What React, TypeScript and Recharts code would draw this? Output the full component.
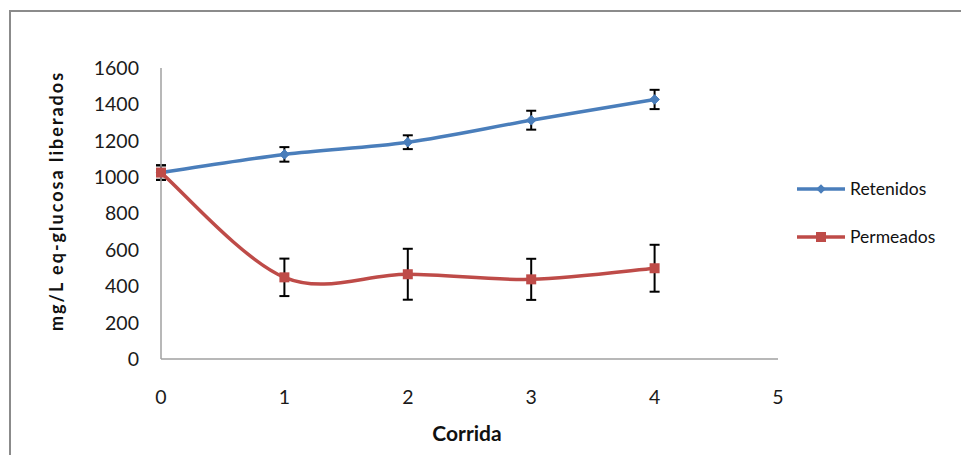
import React from 'react';
import { LineChart, Line, XAxis, YAxis, ErrorBar, Legend } from 'recharts';

// Run number (x axis)
const corrida = [0, 1, 2, 3, 4];
// mg/L glucose-equivalents released, retentate
const retenidos = [1025, 1125, 1192, 1313, 1427];
const retenidosErr = [40, 40, 38, 52, 53];
// mg/L glucose-equivalents released, permeate
const permeados = [1025, 449, 466, 438, 499];
const permeadosErr = [40, 103, 140, 113, 129];

const xTicks = [0, 1, 2, 3, 4, 5];
const yTicks = [0, 200, 400, 600, 800, 1000, 1200, 1400, 1600];

const BLUE = '#4a7ebb';
const RED = '#be4b48';
const FONT = 'Lato, "Open Sans", sans-serif';

const data = corrida.map((c, i) => ({
  corrida: c,
  retenidos: retenidos[i],
  retenidosErr: retenidosErr[i],
  permeados: permeados[i],
  permeadosErr: permeadosErr[i],
}));

// Smoothed curve in the spreadsheet style: cubic Bezier segments with
// Catmull-Rom control points (endpoints duplicated).
const smoothCurve = (context: any) => {
  let pts: number[][] = [];
  return {
    areaStart() {},
    areaEnd() {},
    lineStart() {
      pts = [];
    },
    point(x: number, y: number) {
      pts.push([+x, +y]);
    },
    lineEnd() {
      const n = pts.length;
      if (!n) return;
      context.moveTo(pts[0][0], pts[0][1]);
      for (let i = 0; i < n - 1; i++) {
        const p0 = pts[Math.max(i - 1, 0)];
        const p1 = pts[i];
        const p2 = pts[i + 1];
        const p3 = pts[Math.min(i + 2, n - 1)];
        context.bezierCurveTo(
          p1[0] + (p2[0] - p0[0]) / 6,
          p1[1] + (p2[1] - p0[1]) / 6,
          p2[0] - (p3[0] - p1[0]) / 6,
          p2[1] - (p3[1] - p1[1]) / 6,
          p2[0],
          p2[1]
        );
      }
    },
  };
};

const diamondPath = (cx: number, cy: number, r: number) =>
  `M${cx},${cy - r}L${cx + r},${cy}L${cx},${cy + r}L${cx - r},${cy}Z`;

const renderDiamond = (props: any) => {
  const { cx, cy, index } = props;
  if (cx == null || cy == null) return <g key={`d${index}`} />;
  return <path key={`d${index}`} d={diamondPath(cx, cy, 4.8)} fill={BLUE} stroke={BLUE} strokeWidth={1} />;
};

const renderSquare = (props: any) => {
  const { cx, cy, index } = props;
  if (cx == null || cy == null) return <g key={`s${index}`} />;
  return <rect key={`s${index}`} x={cx - 5} y={cy - 5} width={10} height={10} fill={RED} />;
};

const legendItems = [
  { key: 'retenidos', name: 'Retenidos', color: BLUE, marker: 'diamond' },
  { key: 'permeados', name: 'Permeados', color: RED, marker: 'square' },
];

const renderLegend = () => (
  <div style={{ fontFamily: FONT, fontSize: 17.5, color: '#111' }}>
    {legendItems.map((item) => (
      <div key={item.key} style={{ display: 'flex', alignItems: 'center', height: 48 }}>
        <svg width={49} height={14} style={{ display: 'block' }}>
          <line x1={0} y1={7} x2={48} y2={7} stroke={item.color} strokeWidth={3.5} />
          {item.marker === 'diamond' ? (
            <path d={diamondPath(24, 7, 4.8)} fill={item.color} />
          ) : (
            <rect x={19} y={2} width={10} height={10} fill={item.color} />
          )}
        </svg>
        <span style={{ marginLeft: 4, lineHeight: '20px' }}>{item.name}</span>
      </div>
    ))}
  </div>
);

const yTitle = () => {
  const cx = 56;
  const cy = 201;
  return (
    <text
      x={cx}
      y={cy}
      transform={`rotate(-90 ${cx} ${cy})`}
      textAnchor="middle"
      dominantBaseline="central"
      fontFamily={FONT}
      fontWeight={700}
      fontSize={18}
      letterSpacing={2}
      fill="#111"
    >
      mg/L eq-glucosa liberados
    </text>
  );
};

const xTitle = () => (
  <text
    x={467}
    y={432}
    textAnchor="middle"
    dominantBaseline="central"
    fontFamily={FONT}
    fontWeight={700}
    fontSize={21}
    fill="#111"
  >
    Corrida
  </text>
);

const tickStyle = { fontFamily: FONT, fontSize: 19.5, fill: '#1a1a1a' };

export default function App() {
  return (
    <div
      style={{
        position: 'fixed',
        left: 0,
        top: 0,
        width: 961,
        height: 455,
        overflow: 'hidden',
        background: '#fff',
      }}
    >
      <div
        style={{
          position: 'absolute',
          left: 9,
          top: 10,
          width: 1100,
          height: 600,
          border: '2px solid #8b8b8b',
        }}
      />
      <div style={{ position: 'absolute', left: 0, top: 0 }}>
        <LineChart
          width={961}
          height={455}
          data={data}
          margin={{ top: 68, right: 183, bottom: 0, left: 0 }}
        >
          <XAxis
            type="number"
            dataKey="corrida"
            domain={[0, 5]}
            ticks={xTicks}
            interval={0}
            height={96}
            axisLine={{ stroke: '#a0a0a0', strokeWidth: 1.5 }}
            tickLine={false}
            tickSize={0}
            tickMargin={31}
            tick={tickStyle}
            label={xTitle}
          />
          <YAxis
            type="number"
            domain={[0, 1600]}
            ticks={yTicks}
            interval={0}
            width={161}
            axisLine={{ stroke: '#a0a0a0', strokeWidth: 1.5 }}
            tickLine={false}
            tickSize={0}
            tickMargin={22}
            tick={tickStyle}
            label={yTitle}
          />
          <Legend
            layout="vertical"
            align="center"
            verticalAlign="middle"
            content={renderLegend}
            wrapperStyle={{ left: 797, top: 165, width: 160 }}
          />
          <Line
            dataKey="retenidos"
            name="Retenidos"
            type={smoothCurve as any}
            stroke={BLUE}
            strokeWidth={3.5}
            dot={renderDiamond}
            activeDot={false}
            isAnimationActive={false}
          >
            <ErrorBar dataKey="retenidosErr" direction="y" width={5} stroke="#000" strokeWidth={2} />
          </Line>
          <Line
            dataKey="permeados"
            name="Permeados"
            type={smoothCurve as any}
            stroke={RED}
            strokeWidth={3.5}
            dot={renderSquare}
            activeDot={false}
            isAnimationActive={false}
          >
            <ErrorBar dataKey="permeadosErr" direction="y" width={5} stroke="#000" strokeWidth={2} />
          </Line>
        </LineChart>
      </div>
    </div>
  );
}
